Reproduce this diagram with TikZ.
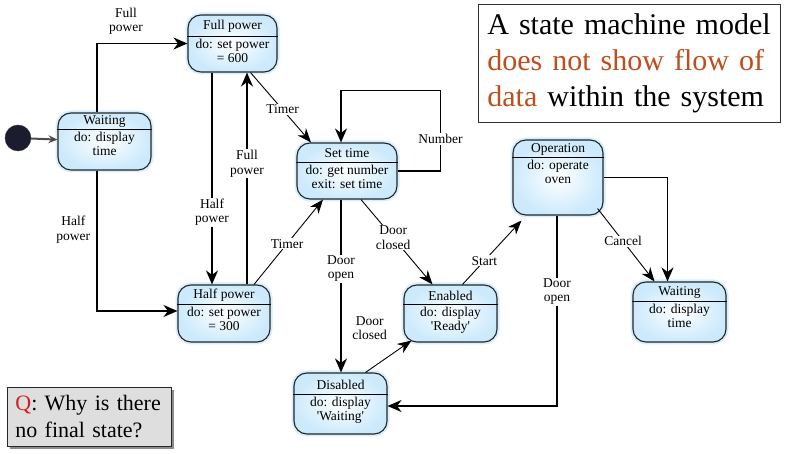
\documentclass[tikz,border=0pt]{standalone}
\usepackage{fontspec}
\setmainfont{Liberation Serif}
\usetikzlibrary{arrows.meta,shadows}
\definecolor{stateblue}{RGB}{204,234,252}
\definecolor{rust}{RGB}{190,78,28}
\definecolor{qred}{RGB}{210,30,30}
\definecolor{dotnavy}{RGB}{28,28,48}
\tikzset{
  stbox/.style={draw=black!85, line width=1.1pt, rounded corners=13pt, inner color=white, outer color=stateblue,
    preaction={draw=stateblue!80, line width=5pt}},
  sthead/.style={line width=1.8pt},
  sttitle/.style={inner sep=0pt},
  stbody/.style={align=center, inner sep=1pt},
  flow/.style={-{Stealth[length=14pt,width=12pt,inset=4.5pt]}, line width=1.6pt},
  thin flow/.style={-{Stealth[length=14pt,width=11pt,inset=4.5pt]}, line width=0.9pt},
  init flow/.style={-{Stealth[length=9pt,width=8pt,inset=3pt]}, line width=2pt, draw=black!70},
  lbl/.style={align=center, fill=white, inner sep=1pt},
  note/.style={draw=black!80, line width=0.8pt, align=left, inner xsep=9pt, font=\fontsize{30}{36}\selectfont},
  qbox/.style={draw=black!85, line width=0.8pt, fill=black!13, align=left, inner xsep=8pt,
    drop shadow={shadow xshift=3pt, shadow yshift=-3pt, fill=black!45, opacity=1},
    font=\fontsize{22}{27}\selectfont}
}
\begin{document}
\begin{tikzpicture}[x=1pt, y=-1pt, node font=\fontsize{13.5}{14.5}\selectfont]
    \useasboundingbox (0,0) rectangle (788,454);
    % states
    \foreach \n/\x/\y/\w/\h/\hd/\ttl/\bd in {
        waitL/104.5/141.5/93/57/17/Waiting/{do: display\\time},
        fullp/232.5/43.5/89/57/22/Full power/{do: set power\\= 600},
        settime/347/171/100/56/20/Set time/{do: get number\\exit: set time},
        halfp/224/313.5/92/57/20/Half power/{do: set power\\= 300},
        enabled/450.5/313.5/93/57/20/Enabled/{do: display\\\textquotesingle Ready\textquotesingle},
        disabled/340.5/403.5/93/61/22/Disabled/{do: display\\\textquotesingle Waiting\textquotesingle},
        oper/558/177.5/90/75/18/Operation/{do: operate\\oven},
        waitR/679.5/312/93/60/20/Waiting/{do: display\\time}}
    {
        \node [stbox, minimum width=\w, minimum height=\h] (\n) at (\x,\y) {};
        \draw [sthead] ([yshift=-\hd]\n.north west) -- ([yshift=-\hd]\n.north east);
        \node [sttitle] (\n-t) at ([yshift=-\hd/2-1]\n.north) {\ttl};
        \node [stbody, anchor=north] (\n-b) at ([yshift=-\hd-1]\n.north) {\bd};
    }
    \node [circle, fill=dotnavy, draw=black!80, minimum size=26pt] (init) at (18,138) {};
    % transitions
    \draw [init flow] (init) -- (waitL);
    \draw [flow] ([xshift=-7.5]waitL.north) |- (fullp.west)
        node [lbl, fill=none, pos=0.66, above=7pt] {Full\\power};
    \draw [flow] ([xshift=-7.5]waitL.south) |- ([yshift=2.5]halfp.west)
        node [lbl, fill=none, pos=0.21, left=5pt] {Half\\power};
    \draw [flow] ([xshift=-20.5]fullp.south) -- ([xshift=-20.5]fullp.south |- halfp.north)
        node [lbl, pos=0.66] {Half\\power};
    \draw [flow] ([xshift=23]halfp.north) -- ([xshift=23]halfp.north |- fullp.south)
        node [lbl, pos=0.57] {Full\\power};
    \draw [thin flow] ([xshift=18]fullp.south) -- ([xshift=-36]settime.north)
        node [lbl, pos=0.53] {Timer};
    \draw [thin flow] ([xshift=30]halfp.north) -- ([xshift=-24]settime.south)
        node [lbl, pos=0.48] {Timer};
    \draw [flow] (settime.east) -- ++(43,0) |- ([xshift=-6,yshift=52]settime.north)
        node [lbl, pos=0.2] {Number} -- ([xshift=-6]settime.north);
    \draw [flow] ([xshift=-6]settime.south) -- ([xshift=-6]settime.south |- disabled.north)
        node [lbl, pos=0.4] {Door\\open};
    \draw [thin flow] ([xshift=14]settime.south) -- ([xshift=-18]enabled.north)
        node [lbl, pos=0.45] {Door\\closed};
    \draw [thin flow] ([xshift=25]disabled.north) -- ([xshift=8,yshift=2]enabled.south west)
        node [lbl, fill=none, pos=0.7, xshift=-28pt, yshift=22pt] {Door\\closed};
    \draw [thin flow] ([xshift=12]enabled.north) -- ([xshift=9,yshift=-5]oper.south west)
        node [lbl, pos=0.37] {Start};
    \draw [flow] (oper.east) -| ([xshift=-12]waitR.north);
    \draw [thin flow] ([xshift=-6,yshift=7]oper.south east) -- ([xshift=-25]waitR.north)
        node [lbl, pos=0.45] {Cancel};
    \draw [flow] ([xshift=-1]oper.south) |- ([yshift=-2.5]disabled.east)
        node [lbl, pos=0.2] {Door\\open};
    % text boxes
    \node [note, anchor=north west, text width=284pt, minimum height=118pt] (remark) at (478,4)
        {A state machine model\\\textcolor{rust}{does not show flow of}\\\textcolor{rust}{data} within the system};
    \node [qbox, anchor=north west, text width=148pt, minimum height=59pt] (quest) at (7,387)
        {\textcolor{qred}{Q}: Why is there\\no final state?};
\end{tikzpicture}
\end{document}
